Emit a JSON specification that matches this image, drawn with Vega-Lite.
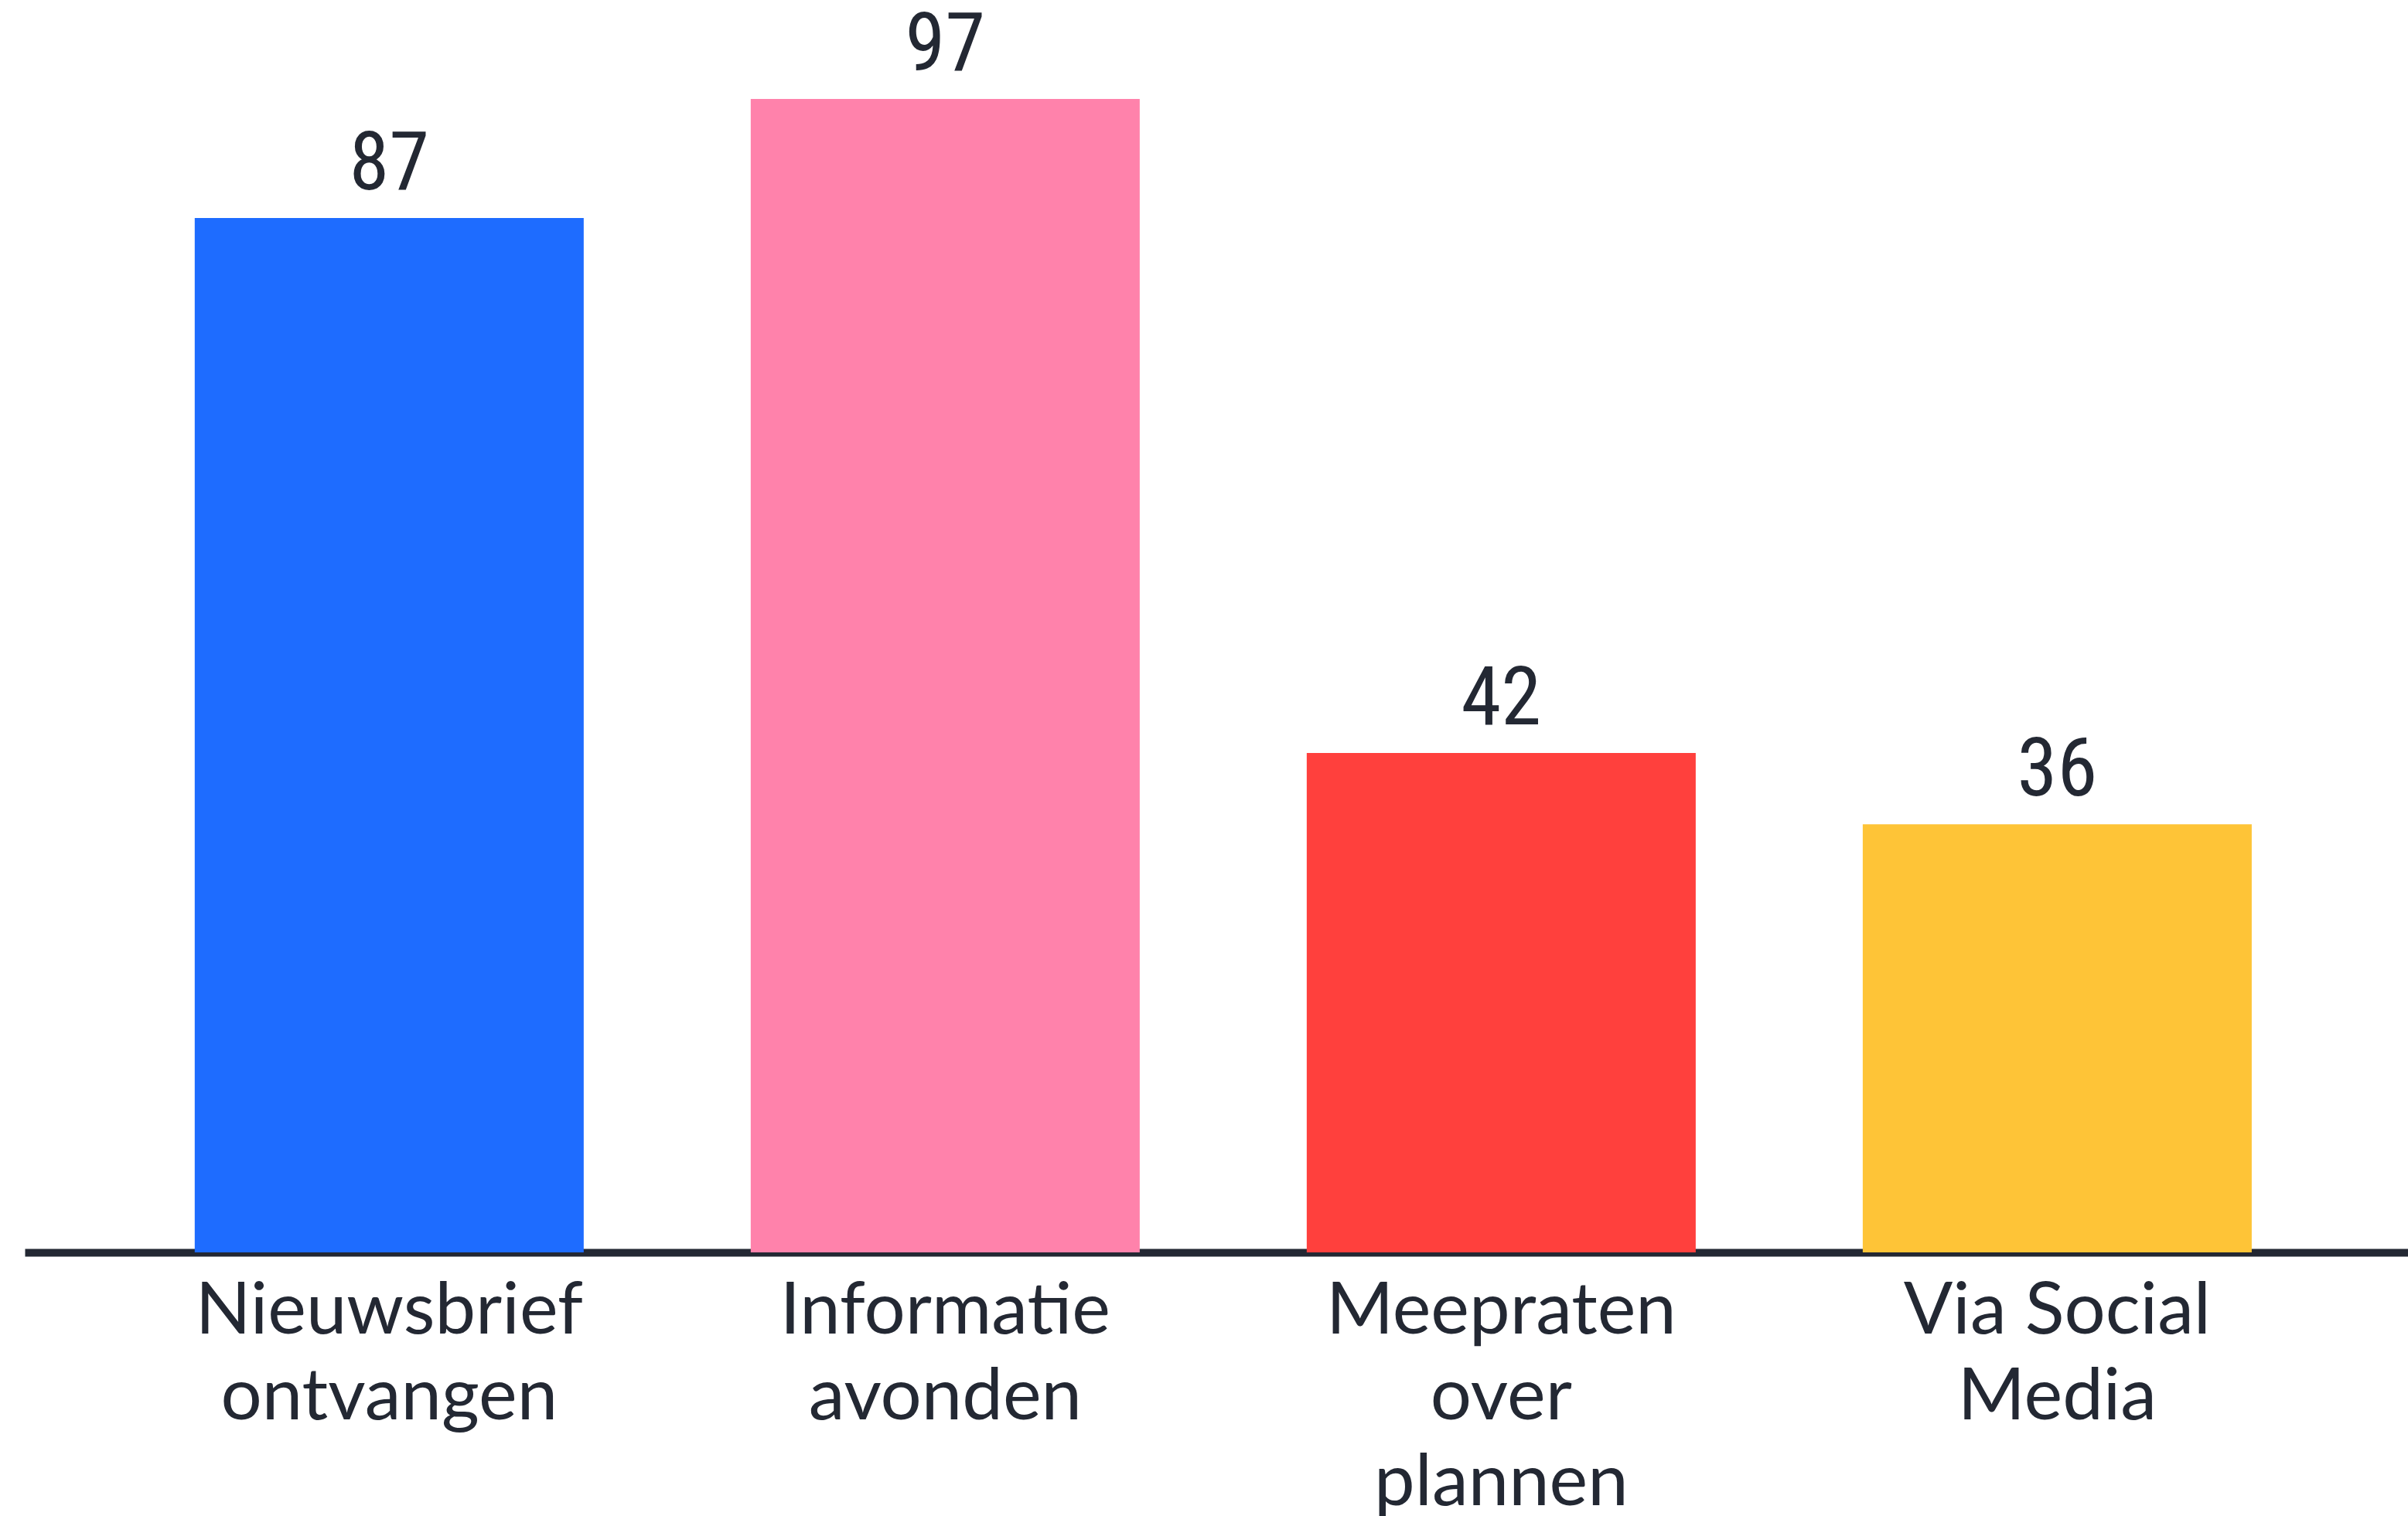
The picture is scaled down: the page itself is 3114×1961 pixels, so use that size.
{
  "$schema": "https://vega.github.io/schema/vega-lite/v6.json",
  "autosize": {"type": "none"},
  "width": 3082,
  "height": 1620,
  "padding": {"left": 32, "top": 0, "right": 0, "bottom": 341},
  "background": "#ffffff",
  "config": {"view": {"stroke": null}},
  "data": {
    "values": [
      {"category": "Nieuwsbrief ontvangen", "value": 87},
      {"category": "Informatie avonden", "value": 97},
      {"category": "Meepraten over plannen", "value": 42},
      {"category": "Via Social Media", "value": 36}
    ]
  },
  "encoding": {
    "x": {
      "field": "category",
      "type": "nominal",
      "sort": null,
      "scale": {"paddingInner": 0.3004, "paddingOuter": 0.2934, "align": 0.521},
      "axis": {
        "title": null,
        "labelAngle": 0,
        "ticks": false,
        "domain": true,
        "domainColor": "#232833",
        "domainWidth": 10,
        "labelFont": "Lato",
        "labelFontSize": 94,
        "labelColor": "#232833",
        "labelPadding": 30,
        "labelLineHeight": 111,
        "labelLimit": 0,
        "labelExpr": "datum.value == 'Nieuwsbrief ontvangen' ? ['Nieuwsbrief','ontvangen'] : datum.value == 'Informatie avonden' ? ['Informatie','avonden'] : datum.value == 'Meepraten over plannen' ? ['Meepraten','over','plannen'] : ['Via Social','Media']"
      }
    },
    "y": {
      "field": "value",
      "type": "quantitative",
      "scale": {"domain": [0, 105.33], "nice": false},
      "axis": null
    }
  },
  "layer": [
    {
      "mark": {"type": "bar"},
      "encoding": {
        "color": {
          "field": "category",
          "type": "nominal",
          "scale": {
            "domain": ["Nieuwsbrief ontvangen", "Informatie avonden", "Meepraten over plannen", "Via Social Media"],
            "range": ["#1e6cff", "#ff82ab", "#ff403d", "#fec437"]
          },
          "legend": null
        }
      }
    },
    {
      "mark": {
        "type": "text",
        "baseline": "alphabetic",
        "dy": -37,
        "font": "Liberation Sans Narrow, Roboto Condensed, Roboto",
        "fontSize": 105,
        "color": "#232833"
      },
      "encoding": {"text": {"field": "value", "type": "quantitative"}}
    }
  ]
}
